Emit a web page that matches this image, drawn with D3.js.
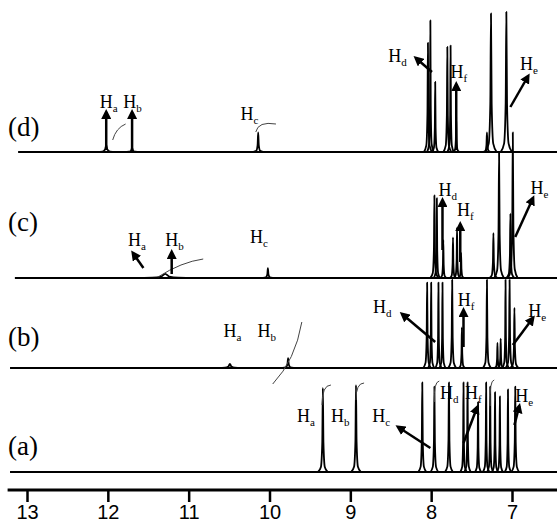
<!DOCTYPE html>
<html>
<head>
<meta charset="utf-8">
<script src="https://cdn.jsdelivr.net/npm/d3@7"></script>
<style>
body { margin: 0; background: #fff; }
</style>
</head>
<body>
<svg id="chart" width="557" height="523"></svg>
<script>
var tickValues = [13, 12, 11, 10, 9, 8, 7];
var spectrumNames = ["(d)", "(c)", "(b)", "(a)"];

// peaks: [ppm, relative intensity, half width in ppm]
var peaksD = [
  [12.02, 5, 0.12], [11.70, 3, 0.10], [10.14, 14, 0.06],
  [8.04, 78, 0.05], [8.01, 94, 0.04], [7.95, 50, 0.04],
  [7.80, 75, 0.05], [7.76, 76, 0.04], [7.69, 25, 0.04],
  [7.31, 14, 0.05], [7.26, 99, 0.07], [7.07, 100, 0.07]
];
var peaksC = [
  [11.29, 3, 0.40], [10.02, 7, 0.06],
  [7.96, 59, 0.05], [7.93, 57, 0.04], [7.85, 27, 0.04],
  [7.73, 29, 0.04], [7.68, 36, 0.04], [7.63, 18, 0.04],
  [7.23, 32, 0.05], [7.16, 90, 0.06], [7.02, 46, 0.05], [6.99, 104, 0.06]
];
var peaksB = [
  [10.49, 3, 0.15], [9.77, 7, 0.07],
  [8.05, 61, 0.05], [8.00, 61, 0.04], [7.91, 61, 0.04], [7.86, 61, 0.04],
  [7.74, 63, 0.05], [7.62, 29, 0.04], [7.31, 63, 0.05],
  [7.18, 18, 0.04], [7.14, 21, 0.04], [7.08, 63, 0.04], [7.03, 63, 0.05], [6.97, 43, 0.05]
];
var peaksA = [
  [9.34, 60, 0.06], [8.93, 62, 0.06],
  [8.11, 64, 0.05], [7.96, 61, 0.05], [7.78, 64, 0.05],
  [7.60, 64, 0.04], [7.55, 64, 0.04], [7.42, 50, 0.04],
  [7.32, 64, 0.04], [7.27, 61, 0.04], [7.21, 57, 0.04], [7.15, 54, 0.04],
  [7.05, 59, 0.04], [6.96, 61, 0.05]
];

// labels: [subscript, ppm of text start, px above baseline]
var labelsD = [["a", 12.10, 44], ["b", 11.81, 44], ["c", 10.36, 32], ["d", 8.53, 90], ["f", 7.76, 74], ["e", 6.90, 82]];
var labelsC = [["a", 11.75, 32], ["b", 11.29, 32], ["c", 10.24, 35], ["d", 7.91, 82], ["f", 7.68, 62], ["e", 6.77, 84]];
var labelsB = [["a", 10.57, 31], ["b", 10.15, 31], ["d", 8.72, 55], ["f", 7.67, 62], ["e", 6.80, 51]];
var labelsA = [["a", 9.66, 50], ["b", 9.24, 50], ["c", 8.73, 50], ["d", 7.89, 73], ["f", 7.58, 73], ["e", 6.96, 70]];

// arrows: [ppm from, h from, ppm to, h to]
var arrowsD = [[12.02, 2, 12.02, 40], [11.70, 2, 11.70, 40], [7.99, 80, 8.19, 94], [7.69, 2, 7.69, 68], [7.02, 45, 6.80, 76]];
var arrowsC = [[11.56, 10, 11.69, 25], [11.21, 4, 11.21, 26], [7.86, 28, 7.86, 78], [7.64, 16, 7.64, 54], [6.96, 41, 6.74, 80]];
var arrowsB = [[7.95, 26, 8.36, 54], [7.60, 21, 7.60, 58], [6.99, 23, 6.74, 50]];
var arrowsA = [[8.01, 24, 8.41, 45], [7.60, 29, 7.43, 65], [6.97, 47, 6.91, 66]];

// thin integral traces: [ppm, h, ctrl ppm, ctrl h, ppm, h] (h in px)
var tracesD = [[11.94, 12, 11.90, 24, 11.78, 28], [10.17, 20, 10.14, 31, 9.92, 28]];
var tracesC = [[11.38, 1, 11.09, 16, 10.82, 19]];
var tracesB = [[9.60, 46, 9.68, 8, 9.96, -16]];
var tracesA = [[9.35, 67, 9.35, 87, 9.24, 87], [8.93, 72, 8.93, 89, 8.83, 89], [7.96, 70, 7.97, 90, 7.90, 91], [7.27, 66, 7.28, 92, 7.22, 92]];

var svg = d3.select("#chart");
var width = 557, height = 523;

svg.append("rect")
    .attr("width", width)
    .attr("height", height)
    .attr("fill", "white");

var x = d3.scaleLinear()
    .domain([13, 7])
    .range([27, 512]);

var amp = d3.scaleLinear()
    .domain([0, 100])
    .range([0, 140]);

var layout = [
  { name: spectrumNames[0], base: 152, start: 13.11, peaks: peaksD, labels: labelsD, arrows: arrowsD, traces: tracesD, nameY: 136 },
  { name: spectrumNames[1], base: 278, start: 13.15, peaks: peaksC, labels: labelsC, arrows: arrowsC, traces: tracesC, nameY: 231 },
  { name: spectrumNames[2], base: 368, start: 13.21, peaks: peaksB, labels: labelsB, arrows: arrowsB, traces: tracesB, nameY: 346 },
  { name: spectrumNames[3], base: 472, start: 13.21, peaks: peaksA, labels: labelsA, arrows: arrowsA, traces: tracesA, nameY: 455 }
];

svg.append("defs").append("marker")
    .attr("id", "head")
    .attr("viewBox", "0 -5 10 10")
    .attr("refX", 7)
    .attr("refY", 0)
    .attr("markerUnits", "userSpaceOnUse")
    .attr("markerWidth", 10)
    .attr("markerHeight", 10)
    .attr("orient", "auto")
  .append("path")
    .attr("d", "M0,-5L10,0L0,5Z")
    .attr("fill", "black");

var peakLine = d3.line()
    .x(function(d) { return x(d[0]); })
    .y(function(d) { return d[1]; })
    .curve(d3.curveMonotoneX);

layout.forEach(function(s) {
  var g = svg.append("g");
  var yOf = function(h) { return s.base - amp(h); };

  g.append("line")
      .attr("x1", x(s.start))
      .attr("x2", width)
      .attr("y1", s.base)
      .attr("y2", s.base)
      .attr("stroke", "black")
      .attr("stroke-width", 2.2);

  g.selectAll(".peak")
      .data(s.peaks)
      .enter()
    .append("path")
      .attr("class", "peak")
      .attr("d", function(p) {
        var c = p[0], h = p[1], w = p[2];
        return peakLine([
          [c + w, s.base],
          [c + w * 0.4, yOf(h * 0.06)],
          [c + w * 0.12, yOf(h * 0.35)],
          [c, yOf(h)],
          [c - w * 0.12, yOf(h * 0.35)],
          [c - w * 0.4, yOf(h * 0.06)],
          [c - w, s.base]
        ]);
      })
      .attr("fill", "none")
      .attr("stroke", "black")
      .attr("stroke-width", 1.8)
      .attr("stroke-linejoin", "round");

  g.selectAll(".trace")
      .data(s.traces)
      .enter()
    .append("path")
      .attr("class", "trace")
      .attr("d", function(t) {
        var p = d3.path();
        p.moveTo(x(t[0]), s.base - t[1]);
        p.quadraticCurveTo(x(t[2]), s.base - t[3], x(t[4]), s.base - t[5]);
        return p.toString();
      })
      .attr("fill", "none")
      .attr("stroke", "#444")
      .attr("stroke-width", 1);

  g.selectAll(".arrow")
      .data(s.arrows)
      .enter()
    .append("line")
      .attr("class", "arrow")
      .attr("x1", function(a) { return x(a[0]); })
      .attr("y1", function(a) { return s.base - a[1]; })
      .attr("x2", function(a) { return x(a[2]); })
      .attr("y2", function(a) { return s.base - a[3]; })
      .attr("stroke", "black")
      .attr("stroke-width", 2.5)
      .attr("marker-end", "url(#head)");

  var lab = g.selectAll(".hlabel")
      .data(s.labels)
      .enter()
    .append("text")
      .attr("class", "hlabel")
      .attr("x", function(l) { return x(l[1]); })
      .attr("y", function(l) { return s.base - l[2]; })
      .style("font-family", "'Liberation Serif', serif")
      .style("font-size", "18px")
      .attr("fill", "black");
  lab.append("tspan").text("H");
  lab.append("tspan")
      .attr("dy", 4)
      .style("font-size", "11px")
      .text(function(l) { return l[0]; });

  svg.append("text")
      .attr("x", 8)
      .attr("y", s.nameY)
      .style("font-family", "'Liberation Serif', serif")
      .style("font-size", "27px")
      .attr("fill", "black")
      .text(s.name);
});

var xAxis = svg.append("g")
    .attr("transform", "translate(0,490)")
    .call(d3.axisBottom(x)
      .tickValues(tickValues)
      .tickSize(12)
      .tickSizeOuter(0)
      .tickPadding(3)
      .tickFormat(d3.format("d")));

xAxis.select(".domain").remove();

xAxis.append("line")
    .attr("x1", x(13.24))
    .attr("x2", width)
    .attr("stroke", "black")
    .attr("stroke-width", 3);

xAxis.selectAll(".tick line")
    .attr("stroke", "black")
    .attr("stroke-width", 2.5);

xAxis.selectAll("text")
    .style("font-family", "'Liberation Sans', Arial, sans-serif")
    .style("font-size", "20px")
    .attr("fill", "black");
</script>
</body>
</html>
